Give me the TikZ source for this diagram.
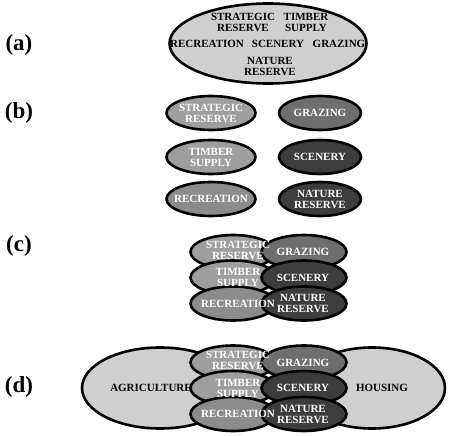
\documentclass[tikz,border=0pt]{standalone}
\usepackage{fontspec}
\setmainfont{Liberation Serif}
\usetikzlibrary{shapes.geometric}
\definecolor{landgray}{gray}{0.81}
\definecolor{reservegray}{gray}{0.62}
\definecolor{recgray}{gray}{0.55}
\definecolor{grazegray}{gray}{0.43}
\definecolor{scenegray}{gray}{0.24}

\begin{document}
\begin{tikzpicture}[x=1pt, y=-1pt,
    blob/.style={ellipse, draw=black, line width=2.6pt, inner sep=0pt},
    usetext/.style={font=\bfseries\fontsize{11}{11}\selectfont, align=center, inner sep=0pt},
    panel/.style={font=\bfseries\fontsize{23}{23}\selectfont, inner sep=0pt}
]
    \useasboundingbox (0,0) rectangle (456,436);

    % (a) All uses in one forest
    \node[panel] (lab_a) at (19,45) {(a)};
    \node[blob, fill=landgray, minimum width=197, minimum height=80] (a_all) at (268,43.5) {};
    \node[usetext] (a_sr) at (243,22.5) {STRATEGIC\\RESERVE};
    \node[usetext] (a_ts) at (306,22.5) {TIMBER\\SUPPLY};
    \node[usetext] (a_rc) at (207,44) {RECREATION};
    \node[usetext] (a_sc) at (278,44) {SCENERY};
    \node[usetext] (a_gr) at (339,44) {GRAZING};
    \node[usetext] (a_nr) at (270,66.5) {NATURE\\RESERVE};

    % (b) Separate uses
    \node[panel] (lab_b) at (19,113) {(b)};
    \node[blob, fill=reservegray, minimum width=89, minimum height=34] (b_sr) at (211,113) {};
    \node[blob, fill=reservegray, minimum width=89, minimum height=34] (b_ts) at (211,157) {};
    \node[blob, fill=recgray, minimum width=89, minimum height=34] (b_rc) at (211,199) {};
    \node[blob, fill=grazegray, minimum width=82, minimum height=34] (b_gr) at (320,113) {};
    \node[blob, fill=scenegray, minimum width=82, minimum height=34] (b_sc) at (320,157) {};
    \node[blob, fill=scenegray, minimum width=82, minimum height=34] (b_nr) at (320,199) {};
    \node[usetext, text=white] (b_tsr) at (b_sr) {STRATEGIC\\RESERVE};
    \node[usetext, text=white] (b_tts) at (b_ts) {TIMBER\\SUPPLY};
    \node[usetext, text=white] (b_trc) at (b_rc) {RECREATION};
    \node[usetext, text=white] (b_tgr) at (b_gr) {GRAZING};
    \node[usetext, text=white] (b_tsc) at (b_sc) {SCENERY};
    \node[usetext, text=white] (b_tnr) at (b_nr) {NATURE\\RESERVE};

    % (c) and (d) Overlapping uses
    \node[panel] (lab_c) at (19,246) {(c)};
    \node[panel] (lab_d) at (19,387) {(d)};

    % (d) Other land uses behind
    \node[blob, fill=landgray, minimum width=156, minimum height=81] (d_ag) at (160,388) {};
    \node[blob, fill=landgray, minimum width=146, minimum height=81] (d_ho) at (372,388) {};
    \node[usetext] (d_tag) at (151,388) {AGRICULTURE};
    \node[usetext] (d_tho) at (382,388) {HOUSING};

    \foreach \p/\dy in {c/0, d/110.5} {
        \node[blob, fill=reservegray, minimum width=85, minimum height=34] (\p_sr) at (233,252+\dy) {};
        \node[blob, fill=grazegray, minimum width=85, minimum height=34] (\p_gr) at (304,252+\dy) {};
        \node[blob, fill=reservegray, minimum width=85, minimum height=34] (\p_ts) at (233,277.5+\dy) {};
        \node[blob, fill=scenegray, minimum width=85, minimum height=34] (\p_sc) at (304,277.5+\dy) {};
        \node[blob, fill=recgray, minimum width=85, minimum height=34] (\p_rc) at (233,303.5+\dy) {};
        \node[blob, fill=scenegray, minimum width=85, minimum height=34] (\p_nr) at (304,303.5+\dy) {};

        \node[usetext, text=white] (\p_tsr) at (238,250+\dy) {STRATEGIC\\RESERVE};
        \node[usetext, text=white] (\p_tgr) at (303,252+\dy) {GRAZING};
        \node[usetext, text=white] (\p_tts) at (238,277.5+\dy) {TIMBER\\SUPPLY};
        \node[usetext, text=white] (\p_tsc) at (303,277.5+\dy) {SCENERY};
        \node[usetext, text=white] (\p_trc) at (238,303.5+\dy) {RECREATION};
        \node[usetext, text=white] (\p_tnr) at (303,303.5+\dy) {NATURE\\RESERVE};
    }

\end{tikzpicture}
\end{document}
